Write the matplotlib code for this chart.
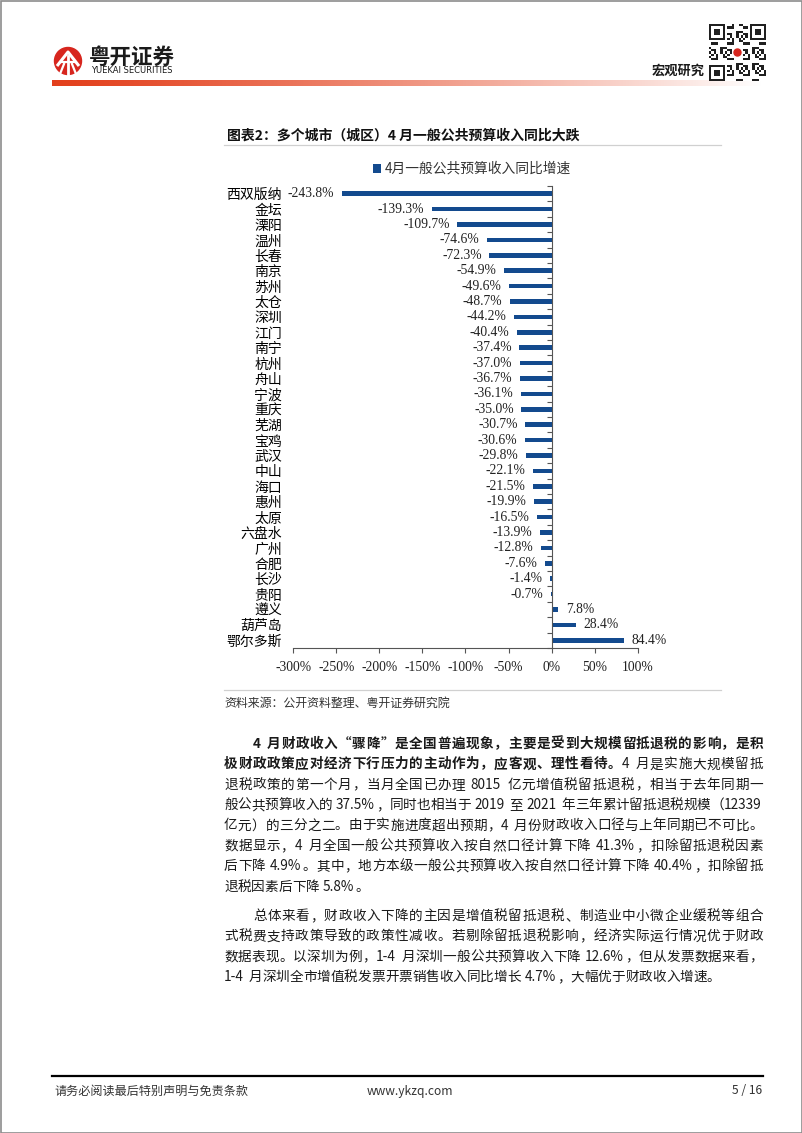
import numpy as np
import matplotlib
matplotlib.use('Agg')
import matplotlib.pyplot as plt
from matplotlib.patches import Circle, Rectangle
from matplotlib.ticker import FuncFormatter

plt.rcParams['font.family'] = ['Noto Sans CJK SC', 'DejaVu Sans']

W, H = 802, 1133

# chart data
cities = ['西双版纳', '金坛', '溧阳', '温州', '长春', '南京', '苏州', '太仓', '深圳', '江门',
          '南宁', '杭州', '舟山', '宁波', '重庆', '芜湖', '宝鸡', '武汉', '中山', '海口',
          '惠州', '太原', '六盘水', '广州', '合肥', '长沙', '贵阳', '遵义', '葫芦岛', '鄂尔多斯']
growth = [-243.8, -139.3, -109.7, -74.6, -72.3, -54.9, -49.6, -48.7, -44.2, -40.4,
          -37.4, -37.0, -36.7, -36.1, -35.0, -30.7, -30.6, -29.8, -22.1, -21.5,
          -19.9, -16.5, -13.9, -12.8, -7.6, -1.4, -0.7, 7.8, 28.4, 84.4]
x_ticks = [-300, -250, -200, -150, -100, -50, 0, 50, 100]
series_name = '4月一般公共预算收入同比增速'

title = '图表2：多个城市（城区）4 月一般公共预算收入同比大跌'
source = '资料来源：公开资料整理、粤开证券研究院'

# body text, one list of (text, bold) segments per printed line
para1 = [
    [('4 月财政收入“骤降”是全国普遍现象，主要是受到大规模留抵退税的影响，是积', True)],
    [('极财政政策应对经济下行压力的主动作为，应客观、理性看待。', True), ('4 月是实施大规模留抵', False)],
    [('退税政策的第一个月，当月全国已办理 8015 亿元增值税留抵退税，相当于去年同期一', False)],
    [('般公共预算收入的 37.5%，同时也相当于 2019 至 2021 年三年累计留抵退税规模（12339', False)],
    [('亿元）的三分之二。由于实施进度超出预期，4 月份财政收入口径与上年同期已不可比。', False)],
    [('数据显示，4 月全国一般公共预算收入按自然口径计算下降 41.3%，扣除留抵退税因素', False)],
    [('后下降 4.9%。其中，地方本级一般公共预算收入按自然口径计算下降 40.4%，扣除留抵', False)],
    [('退税因素后下降 5.8%。', False)],
]
para2 = [
    [('总体来看，财政收入下降的主因是增值税留抵退税、制造业中小微企业缓税等组合', False)],
    [('式税费支持政策导致的政策性减收。若剔除留抵退税影响，经济实际运行情况优于财政', False)],
    [('数据表现。以深圳为例，1-4 月深圳一般公共预算收入下降 12.6%，但从发票数据来看，', False)],
    [('1-4 月深圳全市增值税发票开票销售收入同比增长 4.7%，大幅优于财政收入增速。', False)],
]

fig = plt.figure(figsize=(W / 100, H / 100), dpi=100)
fig.patch.set_facecolor('white')

# full-page layer in pixel coordinates
bg = fig.add_axes([0, 0, 1, 1])
bg.axis('off')

# header: gradient rule
t = np.linspace(0, 1, 500)
frac = t ** 1.2
red = np.array([0.89, 0.25, 0.11])
grad = red[None, :] * (1 - frac[:, None]) + frac[:, None]
bg.imshow(grad[None, :, :], extent=[52, 762, 86.5, 80.5], aspect='auto', interpolation='bilinear')

# QR-like block
n = 25
ii, jj = np.mgrid[0:n, 0:n]
qr = ((ii * 3 + jj * 5 + ii * jj) % 7 < 3).astype(float)
for r, c in [(0, 0), (0, n - 7), (n - 7, 0)]:
    qr[max(r - 1, 0):r + 8, max(c - 1, 0):c + 8] = 0
    qr[r:r + 7, c:c + 7] = 1
    qr[r + 1:r + 6, c + 1:c + 6] = 0
    qr[r + 2:r + 5, c + 2:c + 5] = 1
bg.imshow(qr, cmap='gray_r', vmin=0, vmax=1.15, extent=[709, 766, 81, 24], interpolation='nearest')
bg.add_patch(Rectangle((732, 47), 11, 11, facecolor='white', edgecolor='none'))
bg.add_patch(Circle((737.5, 52.5), 3.5, color='#D7261E'))

bg.set_xlim(0, W)
bg.set_ylim(H, 0)

# logo
bg.add_patch(Circle((68, 61), 13.5, color='#D7261E'))
bg.plot([57, 68, 79], [66, 52, 66], color='white', lw=2.2, solid_capstyle='butt')
bg.plot([61, 75], [62, 62], color='white', lw=1.6)
bg.plot([68, 68], [56, 75], color='white', lw=2.0)
bg.plot([64, 60], [64, 74], color='white', lw=1.6)
bg.plot([72, 76], [64, 74], color='white', lw=1.6)
bg.text(89, 57, '粤开证券', fontsize=15.5, fontweight='bold', color='#1a1a1a', ha='left', va='center')
bg.text(91, 70.5, 'YUEKAI SECURITIES', fontsize=6.0, family='DejaVu Sans', color='#1a1a1a',
        ha='left', va='center')
bg.text(705, 71, '宏观研究', fontsize=9.5, fontweight='bold', color='#1a1a1a', ha='right', va='center')

# title, rules and source
bg.text(227, 136, title, fontsize=10, fontweight='bold', color='#111111', ha='left', va='center')
bg.plot([224, 721], [145, 145], color='#d0d0d0', lw=0.9)
bg.plot([224, 721], [690, 690], color='#d0d0d0', lw=0.9)
bg.text(224, 703, source, fontsize=8.6, color='#333333', ha='left', va='center')

# body text with justified lines
renderer = fig.canvas.get_renderer()
fs = 9.8
fs_px = fs * 100 / 72


def is_wide(s):
    return len(s) == 1 and (ord(s) >= 0x2E80 or s in '“”‘’')


def text_width(s, bold):
    tt = bg.text(0, 0, s, fontsize=fs, fontweight='bold' if bold else 'normal')
    w = tt.get_window_extent(renderer).width
    tt.remove()
    return w


def draw_line(segments, x0, x1, y, justify):
    units = []
    for s, bold in segments:
        buf = ''
        for ch in s:
            if ch == ' ' or is_wide(ch):
                if buf:
                    units.append((buf, bold))
                    buf = ''
                units.append((ch, bold))
            else:
                buf += ch
        if buf:
            units.append((buf, bold))
    widths = []
    for u, bold in units:
        if u == ' ':
            widths.append(0.28 * fs_px)
        elif is_wide(u):
            widths.append(fs_px)
        else:
            widths.append(text_width(u, bold) + 0.08 * fs_px)
    gap = 0
    if justify and len(units) > 1:
        gap = (x1 - x0 - sum(widths)) / (len(units) - 1)
    x = x0
    base = y + 0.36 * fs_px
    for (u, bold), w in zip(units, widths):
        if u != ' ':
            if is_wide(u):
                bg.text(x + w / 2, base, u, fontsize=fs, fontweight='bold' if bold else 'normal',
                        color='#1a1a1a', ha='center', va='baseline')
            else:
                bg.text(x, base, u, fontsize=fs, fontweight='bold' if bold else 'normal',
                        color='#1a1a1a', ha='left', va='baseline')
        x += w + gap


for para, y0 in [(para1, 743), (para2, 915)]:
    for k, line in enumerate(para):
        left = 253 if k == 0 else 224
        draw_line(line, left, 763, y0 + k * 20.4, justify=(k < len(para) - 1))

# footer
bg.plot([52, 763], [1076, 1076], color='black', lw=1.6)
bg.text(54, 1091, '请务必阅读最后特别声明与免责条款', fontsize=8.7, color='#333333', ha='left', va='center')
bg.text(410, 1091, 'www.ykzq.com', fontsize=8.7, color='#333333', ha='center', va='center')
bg.text(762, 1091, '5 / 16', fontsize=8.7, color='#333333', ha='right', va='center')

# page border
bg.add_patch(Rectangle((0.5, 0.5), W - 1, H - 1, fill=False, edgecolor='#8c8c8c', lw=1.2))

# chart
ax = fig.add_axes([293.3 / W, 1 - 648 / H, 344.4 / W, 462 / H])
ax.patch.set_alpha(0)
pos = np.arange(len(cities))
bars = ax.barh(pos, growth, height=0.31, color='#134A8E', label=series_name)
ax.set_xlim(-300, 100)
ax.set_ylim(len(cities) - 0.5, -0.5)

for p, v in zip(pos, growth):
    ax.annotate(f'{v:.1f}%', (v, p), xytext=(-5.5 if v < 0 else 5.5, 0), textcoords='offset points',
                ha='right' if v < 0 else 'left', va='center', fontsize=9.8,
                family='Liberation Serif', color='#222222')

ax.set_yticks(pos)
ax.set_yticklabels(cities, fontsize=9.7, color='#333333')
ax.set_yticks(np.arange(-0.5, len(cities), 1), minor=True)
ax.tick_params(axis='y', which='major', left=False, right=False, labelleft=True, length=0, pad=8)
ax.tick_params(axis='y', which='minor', left=False, right=True, direction='in', length=3.5,
               width=0.8, color='#555555')

ax.set_xticks(x_ticks)
ax.xaxis.set_major_formatter(FuncFormatter(lambda v, _: f'{v:.0f}%'))
ax.tick_params(axis='x', which='major', direction='out', length=3.5, width=0.8, color='#555555',
               pad=6, labelsize=9.8, labelcolor='#222222')
for lbl in ax.get_xticklabels():
    lbl.set_family('Liberation Serif')

ax.spines['top'].set_visible(False)
ax.spines['left'].set_visible(False)
ax.spines['right'].set_position(('data', 0))
ax.spines['right'].set_color('#555555')
ax.spines['right'].set_linewidth(0.8)
ax.spines['bottom'].set_color('#555555')
ax.spines['bottom'].set_linewidth(0.8)

ax.legend(handles=[bars], loc='center', bbox_to_anchor=((472 - 293.3) / 344.4, 1 + 17 / 462),
          frameon=False, fontsize=9.9, handlelength=0.6, handleheight=0.6, handletextpad=0.25,
          labelcolor='#333333', borderaxespad=0)

fig.savefig('out.png', dpi=100, facecolor='white')
